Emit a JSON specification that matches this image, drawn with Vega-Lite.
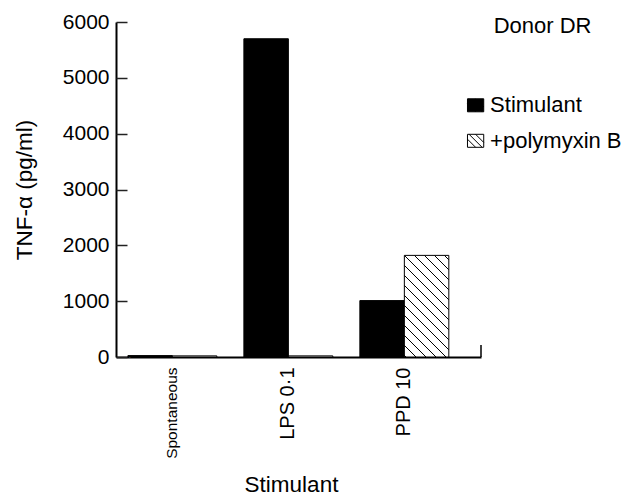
{
  "$schema": "https://vega.github.io/schema/vega-lite/v6.json",
  "width": 365,
  "height": 335,
  "autosize": "none",
  "padding": {"left": 116, "top": 22, "right": 161, "bottom": 138},
  "background": "white",
  "config": {
    "view": {"stroke": null},
    "font": "Liberation Sans",
    "axis": {"grid": false, "labelColor": "black", "titleColor": "black", "titleFontWeight": "normal"}
  },
  "resolve": {"axis": {"y": "independent"}},
  "layer": [
    {
      "data": {"values": [
        {"stimulant": "Spontaneous", "treatment": "Stimulant", "value": 25},
        {"stimulant": "Spontaneous", "treatment": "+polymyxin B", "value": 20},
        {"stimulant": "LPS 0·1", "treatment": "Stimulant", "value": 5700},
        {"stimulant": "LPS 0·1", "treatment": "+polymyxin B", "value": 20},
        {"stimulant": "PPD 10", "treatment": "Stimulant", "value": 1010},
        {"stimulant": "PPD 10", "treatment": "+polymyxin B", "value": 1820}
      ]},
      "mark": {"type": "bar", "stroke": "black", "strokeWidth": 1},
      "encoding": {
        "x": {
          "field": "stimulant", "type": "nominal",
          "sort": ["Spontaneous", "LPS 0·1", "PPD 10"],
          "scale": {"paddingInner": 0.233, "paddingOuter": 0.19, "align": 0.27},
          "axis": {
            "title": "Stimulant",
            "labelAngle": -90,
            "ticks": false,
            "domainColor": "black",
            "domainWidth": 2,
            "labelPadding": 10,
            "labelFontSize": {"condition": {"test": "datum.value === 'Spontaneous'", "value": 15.5}, "value": 20},
            "titleFontSize": 22.5,
            "titlePadding": 15,
            "titleX": 175
          }
        },
        "xOffset": {
          "field": "treatment", "type": "nominal",
          "sort": ["Stimulant", "+polymyxin B"],
          "scale": {"paddingInner": 0, "paddingOuter": 0}
        },
        "y": {
          "field": "value", "type": "quantitative",
          "scale": {"domain": [0, 6000], "nice": false},
          "axis": {
            "orient": "left",
            "title": "TNF-α (pg/ml)",
            "values": [0, 1000, 2000, 3000, 4000, 5000, 6000],
            "format": "d",
            "ticks": false,
            "domainColor": "black",
            "domainWidth": 2,
            "labelFontSize": 21,
            "labelPadding": 7,
            "titleFontSize": 22.5,
            "titlePadding": 26
          }
        },
        "fill": {
          "field": "treatment", "type": "nominal",
          "scale": {
            "domain": ["Stimulant", "+polymyxin B"],
            "range": ["black", "white"]
          },
          "legend": {
            "title": "Donor DR",
            "orient": "none",
            "legendX": 348.6,
            "legendY": -5.7,
            "titleFontSize": 22,
            "titleFontWeight": "normal",
            "titleColor": "black",
            "titleAnchor": "middle",
            "titlePadding": 56,
            "labelFontSize": 22,
            "labelColor": "black",
            "labelOffset": 3.5,
            "symbolType": "M-1.25,-1H1.25V1H-1.25Z M-1,-1L1,1 M-1.25,-0.25L0,1 M0,-1L1.25,0.25",
            "symbolSize": 169,
            "symbolStrokeColor": "black",
            "symbolStrokeWidth": 1,
            "rowPadding": 13.5
          },
          "condition": {
            "test": "datum.treatment === '+polymyxin B' && datum.value > 500",
            "value": {"gradient": "linear", "x1": 0, "y1": 1, "x2": 0.5285, "y2": -0.2066,
              "stops": [
                {"offset": 0, "color": "white"},
                {"offset": 0.0048, "color": "white"}, {"offset": 0.0048, "color": "black"}, {"offset": 0.0170, "color": "black"}, {"offset": 0.0170, "color": "white"},
                {"offset": 0.0733, "color": "white"}, {"offset": 0.0733, "color": "black"}, {"offset": 0.0855, "color": "black"}, {"offset": 0.0855, "color": "white"},
                {"offset": 0.1417, "color": "white"}, {"offset": 0.1417, "color": "black"}, {"offset": 0.1539, "color": "black"}, {"offset": 0.1539, "color": "white"},
                {"offset": 0.2102, "color": "white"}, {"offset": 0.2102, "color": "black"}, {"offset": 0.2224, "color": "black"}, {"offset": 0.2224, "color": "white"},
                {"offset": 0.2786, "color": "white"}, {"offset": 0.2786, "color": "black"}, {"offset": 0.2908, "color": "black"}, {"offset": 0.2908, "color": "white"},
                {"offset": 0.3471, "color": "white"}, {"offset": 0.3471, "color": "black"}, {"offset": 0.3593, "color": "black"}, {"offset": 0.3593, "color": "white"},
                {"offset": 0.4155, "color": "white"}, {"offset": 0.4155, "color": "black"}, {"offset": 0.4277, "color": "black"}, {"offset": 0.4277, "color": "white"},
                {"offset": 0.4840, "color": "white"}, {"offset": 0.4840, "color": "black"}, {"offset": 0.4962, "color": "black"}, {"offset": 0.4962, "color": "white"},
                {"offset": 0.5524, "color": "white"}, {"offset": 0.5524, "color": "black"}, {"offset": 0.5646, "color": "black"}, {"offset": 0.5646, "color": "white"},
                {"offset": 0.6209, "color": "white"}, {"offset": 0.6209, "color": "black"}, {"offset": 0.6331, "color": "black"}, {"offset": 0.6331, "color": "white"},
                {"offset": 0.6893, "color": "white"}, {"offset": 0.6893, "color": "black"}, {"offset": 0.7015, "color": "black"}, {"offset": 0.7015, "color": "white"},
                {"offset": 0.7578, "color": "white"}, {"offset": 0.7578, "color": "black"}, {"offset": 0.7700, "color": "black"}, {"offset": 0.7700, "color": "white"},
                {"offset": 0.8262, "color": "white"}, {"offset": 0.8262, "color": "black"}, {"offset": 0.8384, "color": "black"}, {"offset": 0.8384, "color": "white"},
                {"offset": 0.8947, "color": "white"}, {"offset": 0.8947, "color": "black"}, {"offset": 0.9069, "color": "black"}, {"offset": 0.9069, "color": "white"},
                {"offset": 0.9631, "color": "white"}, {"offset": 0.9631, "color": "black"}, {"offset": 0.9753, "color": "black"}, {"offset": 0.9753, "color": "white"},
                {"offset": 1, "color": "white"}
              ]}
          }
        }
      }
    },
    {
      "data": {"values": [{"endTick": 215}]},
      "mark": {"type": "rule", "stroke": "black", "strokeWidth": 1.5},
      "encoding": {
        "x": {"value": "width"},
        "y": {
          "field": "endTick", "type": "quantitative",
          "axis": {
            "orient": "right",
            "offset": -365,
            "values": [0, 1000, 2000, 3000, 4000, 5000, 6000],
            "title": null,
            "labels": true,
            "labelColor": "white",
            "labelFontSize": 1,
            "domain": false,
            "ticks": true,
            "tickSize": 11,
            "tickColor": "#222222",
            "tickWidth": 1.5,
            "tickOpacity": 1,
            "zindex": 2
          }
        },
        "y2": {"datum": 0}
      }
    }
  ]
}
